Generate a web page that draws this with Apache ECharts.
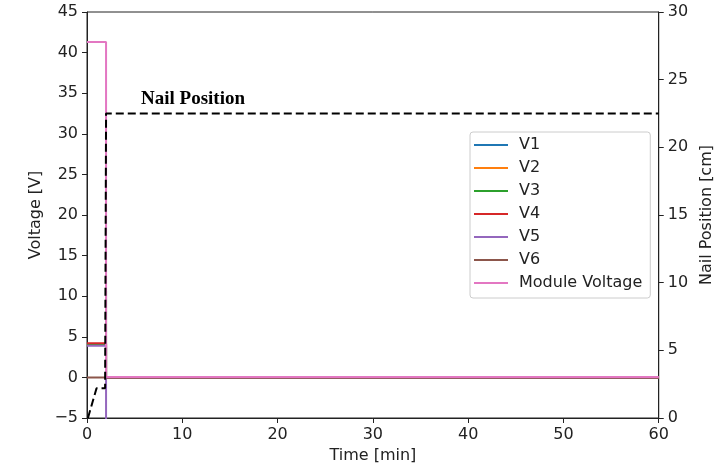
<!DOCTYPE html>
<html>
<head>
<meta charset="utf-8">
<script src="https://cdn.jsdelivr.net/npm/echarts@6/dist/echarts.min.js"></script>
<style>html,body{margin:0;padding:0;background:#fff;}#c{width:723px;height:469px;}</style>
</head>
<body>
<div id="c"></div>
<script>
// Time stamps [min] and values
const tCell = [0, 2.0, 2.0, 60];
const v1 = [4.1, 4.1, 0.0, 0.0];
const v2 = [4.1, 4.1, 0.0, 0.0];
const tV3 = [0, 2.0, 2.0, 2.0, 60];
const v3 = [4.1, 4.1, 10.7, 0.0, 0.0];
const v4 = [4.2, 4.2, 0.0, 0.0];
const tV5 = [0, 2.0, 2.0, 2.0, 60];
const v5 = [3.9, 3.9, -6.0, 0.0, 0.0];
const v6 = [0.0, 0.0, 0.0, 0.0];
const tModule = [0, 2.0, 2.0, 60];
const moduleV = [41.3, 41.3, 0.05, 0.05];
const tNail = [0.1, 1.0, 1.9, 2.0, 2.0, 60];
const nailPos = [0.0, 2.2, 2.2, 2.2, 22.5, 22.5];

const voltTicks = { min: -5, max: 45, interval: 5 };
const nailTicks = { min: 0, max: 30, interval: 5 };
const timeTicks = { min: 0, max: 60, interval: 10 };

const names = ['V1', 'V2', 'V3', 'V4', 'V5', 'V6', 'Module Voltage'];
const colors = ['#1f77b4', '#ff7f0e', '#2ca02c', '#d62728', '#9467bd', '#8c564b', '#e377c2'];
const times = [tCell, tCell, tV3, tCell, tV5, tCell, tModule];
const values = [v1, v2, v3, v4, v5, v6, moduleV];

const zip = (t, v) => t.map((x, i) => [x, v[i]]);
const fmt = v => String(v).replace('-', '\u2212');

const font = 'DejaVu Sans';
const axisCommon = {
  axisLine: { show: true, lineStyle: { color: '#222', width: 1 } },
  axisTick: { show: true, length: 5, lineStyle: { color: '#222' } },
  axisLabel: { color: '#222', fontFamily: font, fontSize: 16, margin: 9, formatter: fmt },
  splitLine: { show: false },
  nameTextStyle: { color: '#222', fontFamily: font, fontSize: 16 }
};

const series = names.map((n, i) => ({
  name: n,
  type: 'line',
  yAxisIndex: 0,
  data: zip(times[i], values[i]),
  showSymbol: false,
  symbol: 'none',
  lineStyle: { color: colors[i], width: 2 },
  itemStyle: { color: colors[i] },
  animation: false,
  clip: true
}));
series.push({
  name: 'Nail Position',
  type: 'line',
  yAxisIndex: 1,
  data: zip(tNail, nailPos),
  showSymbol: false,
  symbol: 'none',
  lineStyle: { color: '#000', width: 2, type: [8, 4] },
  itemStyle: { color: '#000' },
  animation: false,
  clip: true,
  z: 5
});

const chart = echarts.init(document.getElementById('c'));
chart.setOption({
  backgroundColor: '#fff',
  animation: false,
  grid: { left: 87, right: 64, top: 12, bottom: 51, show: true, borderColor: '#222', borderWidth: 1, backgroundColor: 'transparent' },
  xAxis: Object.assign({}, axisCommon, {
    type: 'value', min: timeTicks.min, max: timeTicks.max, interval: timeTicks.interval,
    name: 'Time [min]', nameLocation: 'middle', nameGap: 30,
    axisLine: { show: true, onZero: false, lineStyle: { color: '#222' } }
  }),
  yAxis: [
    Object.assign({}, axisCommon, {
      type: 'value', min: voltTicks.min, max: voltTicks.max, interval: voltTicks.interval,
      name: 'Voltage [V]', nameLocation: 'middle', nameGap: 39, position: 'left'
    }),
    Object.assign({}, axisCommon, {
      type: 'value', min: nailTicks.min, max: nailTicks.max, interval: nailTicks.interval,
      name: 'Nail Position [cm]', nameLocation: 'middle', nameGap: 30, position: 'right', nameRotate: 90
    })
  ],
  legend: {
    data: names,
    orient: 'vertical',
    left: 470,
    top: 132,
    padding: [4, 8, 6, 4],
    itemWidth: 34,
    itemHeight: 2,
    itemGap: 5,
    icon: 'rect',
    backgroundColor: 'rgba(255,255,255,0.85)',
    borderColor: '#ccc',
    borderWidth: 1,
    borderRadius: 3,
    textStyle: { fontFamily: font, fontSize: 16, color: '#222', lineHeight: 18, padding: [0, 0, 0, 6] }
  },
  graphic: [{
    type: 'text',
    left: 141,
    top: 90,
    style: { text: 'Nail Position', font: 'bold 19px "Liberation Serif"', fill: '#000' }
  }],
  series: series
});
</script>
</body>
</html>
